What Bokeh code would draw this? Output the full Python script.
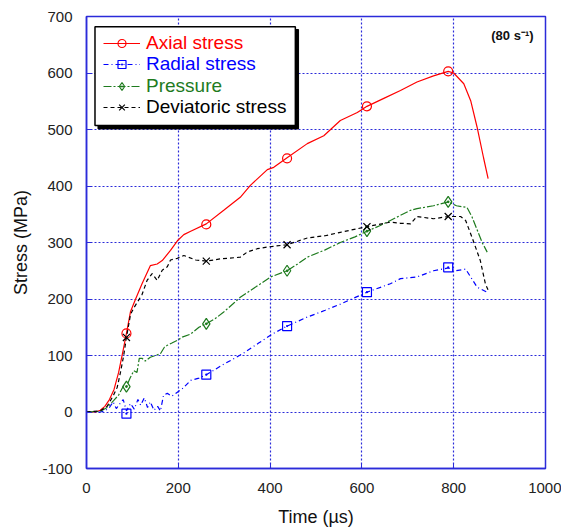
from bokeh.plotting import figure
from bokeh.models import Legend, LegendItem, BoxAnnotation, Label, Range1d, FixedTicker, PrintfTickFormatter
from bokeh.embed import file_html
from bokeh.resources import INLINE

# ---------------- data ----------------
axial_t = [0, 20, 30, 40, 50, 60, 70, 80, 87, 96, 107, 121, 139, 154, 165, 183, 198, 212,
           227, 261, 299, 335, 357, 394, 408, 437, 481, 517, 553, 590, 611, 650, 684, 720,
           756, 788, 800, 822, 837, 851, 865, 875]
axial_s = [0, 0, 3, 10, 22, 40, 70, 110, 139, 178, 200, 227, 259, 262, 268, 286, 303, 314,
           320, 333, 357, 380, 401, 429, 433, 450, 475, 489, 516, 530, 541, 556, 569, 584,
           595, 603, 600, 581, 551, 504, 450, 413]

radial_t = [0, 30, 40, 50, 58, 65, 72, 80, 87, 96, 104, 112, 118, 126, 133, 139, 147, 155,
            161, 168, 176, 186, 198, 210, 227, 245, 261, 300, 340, 375, 405, 437, 481, 520,
            553, 611, 662, 684, 720, 756, 788, 804, 826, 837, 851, 873]
radial_s = [0, 0, 2, 8, 18, 6, 14, 22, 2, 15, 5, 22, 12, 25, 8, 18, 3, 10,
            2, 30, 33, 28, 35, 42, 56, 60, 66, 85, 103, 122, 138, 152, 168, 180,
            191, 212, 227, 236, 239, 250, 255, 250, 253, 239, 221, 212]

pressure_t = [0, 30, 45, 59, 70, 81, 87, 95, 103, 110, 115, 121, 128, 139, 150, 161, 170,
              176, 186, 198, 210, 227, 245, 261, 280, 299, 320, 335, 370, 401, 437, 460,
              481, 520, 553, 585, 611, 640, 662, 684, 706, 720, 756, 788, 806, 829, 840,
              862, 873]
pressure_s = [0, 1, 8, 20, 30, 47, 45, 60, 73, 70, 95, 95, 90, 97, 100, 103, 115,
              118, 122, 127, 133, 138, 150, 156, 165, 177, 192, 203, 222, 239, 250, 262,
              274, 287, 300, 310, 320, 330, 339, 348, 357, 360, 365, 372, 365, 362, 345,
              300, 283]

deviatoric_t = [0, 30, 45, 59, 67, 74, 81, 87, 96, 103, 121, 132, 143, 154, 165, 176, 183,
                198, 212, 238, 261, 292, 335, 350, 372, 394, 437, 481, 520, 553, 611, 662,
                684, 706, 720, 756, 788, 815, 826, 840, 858, 869, 877]
deviatoric_s = [0, 2, 10, 30, 44, 70, 100, 132, 173, 184, 208, 233, 245, 233, 251, 257, 269,
                272, 277, 269, 267, 271, 274, 283, 289, 292, 296, 308, 312, 318, 328, 336,
                334, 333, 346, 342, 346, 346, 339, 309, 268, 227, 212]

marker_t = [87, 261, 437, 611, 788]
axial_m = [139, 332, 449, 541, 603]
radial_m = [-3, 66, 152, 212, 256]
pressure_m = [45, 156, 250, 320, 372]
deviatoric_m = [132, 267, 296, 328, 346]

x_ticks = [0, 200, 400, 600, 800, 1000]
y_ticks = [-100, 0, 100, 200, 300, 400, 500, 600, 700]

series_names = ["Axial stress", "Radial stress", "Pressure", "Deviatoric stress"]
colors = ["#ff0000", "#0000ff", "#1e7b1e", "#000000"]
text_colors = ["#ff0000", "#0000ff", "#1e7b1e", "#000000"]

# ---------------- figure ----------------
BLUE = "#2b2bd9"
FONT = "Liberation Sans"

p = figure(width=561, height=531, min_border_left=86, min_border_right=16,
           min_border_top=16, min_border_bottom=63,
           x_range=Range1d(0, 1000), y_range=Range1d(-100, 700),
           output_backend="svg", toolbar_location=None)
p.background_fill_color = "white"
p.border_fill_color = "white"
p.outline_line_color = BLUE
p.outline_line_width = 1.5

for ax in (p.xaxis[0], p.yaxis[0]):
    ax.axis_line_color = BLUE
    ax.axis_line_width = 1.5
    ax.major_tick_line_color = BLUE
    ax.major_tick_in = 5
    ax.major_tick_out = 0
    ax.minor_tick_line_color = None
    ax.major_label_text_font = FONT
    ax.major_label_text_font_size = "15px"
    ax.major_label_text_color = "#222222"
    ax.axis_label_text_font = FONT
    ax.axis_label_text_font_size = "18px"
    ax.axis_label_text_font_style = "normal"
    ax.axis_label_text_color = "#111111"
    ax.formatter = PrintfTickFormatter(format="%d")

p.xaxis.ticker = FixedTicker(ticks=x_ticks)
p.yaxis.ticker = FixedTicker(ticks=y_ticks)
p.xaxis.axis_label = "Time (µs)"
p.yaxis.axis_label = "Stress (MPa)"
p.xaxis.major_label_standoff = 14
p.yaxis.major_label_standoff = 14
p.xaxis.axis_label_standoff = 11
p.yaxis.axis_label_standoff = 8

for g in (p.xgrid[0], p.ygrid[0]):
    g.grid_line_color = BLUE
    g.grid_line_dash = "2 2"
    g.grid_line_width = 1.2

# ---------------- series ----------------
r_ax_l = p.line(axial_t, axial_s, line_color=colors[0], line_width=1.2)
r_ax_m = p.scatter(marker_t, axial_m, marker="circle", size=9, fill_color=None,
                   line_color=colors[0], line_width=1.2)

r_ra_l = p.line(radial_t, radial_s, line_color=colors[1], line_width=1.2, line_dash="5 3 1 3")
r_ra_m = p.scatter(marker_t, radial_m, marker="square_dot", size=9, fill_color=None,
                   line_color=colors[1], line_width=1.2)

r_pr_l = p.line(pressure_t, pressure_s, line_color=colors[2], line_width=1.2, line_dash="8 2 2 2")
r_pr_m = p.scatter(marker_t, pressure_m, marker="diamond_dot", size=11, fill_color=None,
                   line_color=colors[2], line_width=1.2)

r_de_l = p.line(deviatoric_t, deviatoric_s, line_color=colors[3], line_width=1.2, line_dash="4 3")
r_de_m = p.scatter(marker_t, deviatoric_m, marker="x", size=10,
                   line_color=colors[3], line_width=1.2)

# ---------------- legend box (with shadow) ----------------
shadow = BoxAnnotation(left=25, right=462, top=677, bottom=501, fill_color="black",
                       fill_alpha=1, line_color="black", line_alpha=1)
box = BoxAnnotation(left=18.5, right=455, top=682, bottom=507, fill_color="white",
                    fill_alpha=1, line_color="black", line_width=1.5, line_alpha=1)
p.add_layout(shadow)
p.add_layout(box)

pairs = [(r_ax_l, r_ax_m), (r_ra_l, r_ra_m), (r_pr_l, r_pr_m), (r_de_l, r_de_m)]
y_locs = [414, 392.7, 371.3, 350]
for name, (rl, rm), tc, yl in zip(series_names, pairs, text_colors, y_locs):
    lg = Legend(items=[LegendItem(label=name, renderers=[rl, rm])],
                location=(17, yl), margin=0, padding=0, spacing=0,
                glyph_width=37, glyph_height=20, label_height=20, label_standoff=6,
                label_text_font=FONT, label_text_font_size="19px",
                label_text_color=tc, label_text_baseline="middle",
                border_line_alpha=0, background_fill_alpha=0)
    p.add_layout(lg)

p.add_layout(Label(x=974, y=666, text="(80 s⁻¹)", text_align="right",
                   text_baseline="middle", text_font=FONT, text_font_size="13px",
                   text_font_style="bold", text_color="#111111"))

open("out.html", "w").write(file_html(p, INLINE))
